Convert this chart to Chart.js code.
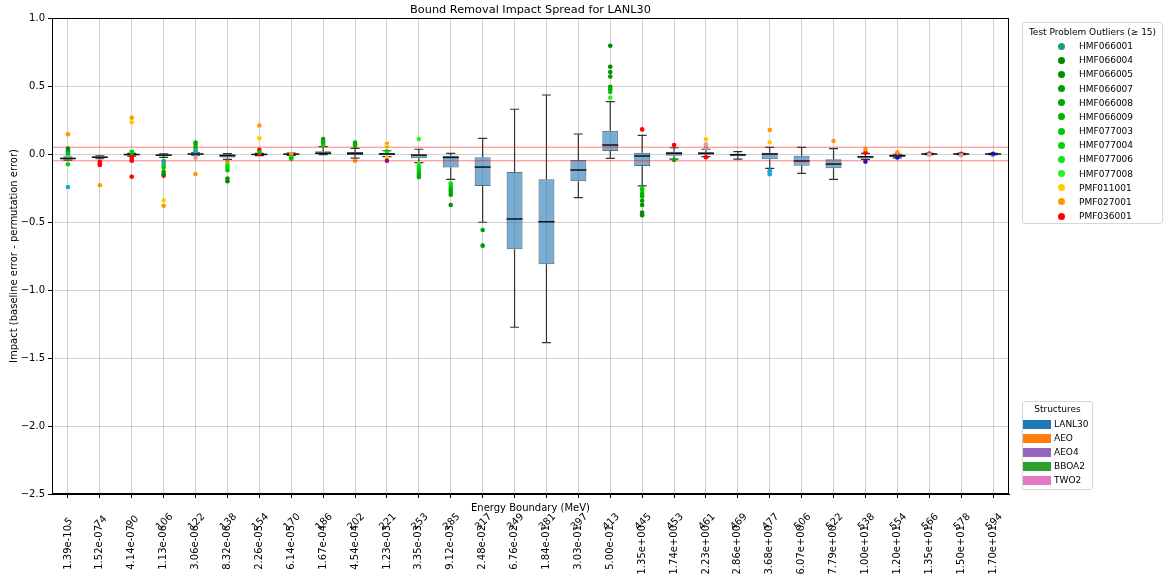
<!DOCTYPE html>
<html>
<head>
<meta charset="utf-8">
<script src="https://cdn.jsdelivr.net/npm/chart.js@4.4.0/dist/chart.umd.min.js"></script>
<style>
  body { margin: 0; background: #fff; font-family: "DejaVu Sans", sans-serif; }
  #wrap { position: relative; width: 1164px; height: 578px; }
  .legend { position: absolute; background: #fff; border: 1px solid #d6d6d6; border-radius: 3px; box-sizing: border-box; font-size: 9px; color: #000; }
  .legend .ttl { position: absolute; left: 0; right: 0; text-align: center; }
  .legend .row { position: absolute; height: 12px; line-height: 12px; white-space: nowrap; }
  .dot { position: absolute; width: 7px; height: 7px; border-radius: 50%; top: 2.5px; }
  .patch { position: absolute; width: 28px; height: 9px; top: 1.5px; }
</style>
</head>
<body>
<div id="wrap">
  <canvas id="chart" width="1164" height="578"></canvas>
  <div class="legend" id="legOut" style="left:1022px; top:22px; width:141px; height:202px;"></div>
  <div class="legend" id="legStruct" style="left:1022px; top:401px; width:71px; height:89px;"></div>
</div>
<script>
// energy group index and upper boundary (MeV)
const groups = ['5', '74', '90', '106', '122', '138', '154', '170', '186', '202', '221', '253', '285', '317', '349',
  '381', '397', '413', '445', '453', '461', '469', '477', '506', '522', '538', '554', '566', '578', '594'];
const energies = ['1.39e-10', '1.52e-07', '4.14e-07', '1.13e-06', '3.06e-06', '8.32e-06', '2.26e-05', '6.14e-05',
  '1.67e-04', '4.54e-04', '1.23e-03', '3.35e-03', '9.12e-03', '2.48e-02', '6.76e-02', '1.84e-01', '3.03e-01',
  '5.00e-01', '1.35e+00', '1.74e+00', '2.23e+00', '2.86e+00', '3.68e+00', '6.07e+00', '7.79e+00', '1.00e+01',
  '1.20e+01', '1.35e+01', '1.50e+01', '1.70e+01'];

// box statistics per group
const whiskerLo = [-0.045, -0.035, -0.015, -0.025, -0.008, -0.04, -0.012, -0.01, -0.005, -0.03, -0.02, -0.064, -0.186, -0.502, -1.274,
  -1.387, -0.321, -0.032, -0.235, -0.037, -0.02, -0.037, -0.105, -0.142, -0.186, -0.04, -0.028, -0.004, -0.004, -0.004];
const q1 = [-0.038, -0.028, -0.008, -0.014, -0.003, -0.025, -0.006, -0.004, 0.0, -0.008, -0.01, -0.032, -0.1, -0.235, -0.701,
  -0.811, -0.201, 0.022, -0.088, -0.012, -0.005, -0.017, -0.039, -0.086, -0.105, -0.034, -0.022, -0.002, -0.002, -0.002];
const medians = [-0.033, -0.024, -0.004, -0.008, 0.0, -0.012, -0.003, -0.001, 0.005, 0.004, 0.0, -0.008, -0.025, -0.096, -0.478,
  -0.498, -0.118, 0.066, -0.015, 0.005, 0.005, -0.005, 0.0, -0.051, -0.074, -0.02, -0.012, 0.0, 0.0, 0.0];
const q3 = [-0.028, -0.019, -0.001, -0.003, 0.003, -0.002, 0.0, 0.002, 0.02, 0.014, 0.008, 0.0, -0.012, -0.024, -0.132,
  -0.186, -0.044, 0.171, 0.01, 0.017, 0.012, 0.0, 0.01, -0.012, -0.039, -0.015, -0.007, 0.002, 0.002, 0.002];
const whiskerHi = [-0.022, -0.013, 0.004, 0.002, 0.008, 0.003, 0.005, 0.006, 0.054, 0.042, 0.024, 0.035, 0.005, 0.115, 0.329,
  0.434, 0.147, 0.385, 0.137, 0.046, 0.035, 0.017, 0.049, 0.049, 0.039, 0.005, -0.002, 0.004, 0.004, 0.004];

// outliers: [group, impact]
const HMF066001 = [['5', 0.005]];
const HMF066004 = [['5', 0.04], ['413', 0.796], ['413', 0.642], ['445', -0.43], ['445', -0.45], ['138', -0.2]];
const HMF066005 = [['413', 0.603], ['285', -0.375], ['317', -0.674], ['445', -0.375], ['138', -0.18], ['106', -0.15]];
const HMF066007 = [['413', 0.569], ['5', 0.03], ['285', -0.3], ['317', -0.559], ['445', -0.343], ['106', -0.13], ['186', 0.11]];
const HMF066008 = [['413', 0.495], ['285', -0.28], ['445', -0.31], ['122', 0.085], ['202', 0.085], ['253', -0.17]];
const HMF066009 = [['413', 0.476], ['285', -0.265], ['445', -0.29], ['122', 0.07], ['186', 0.09], ['202', 0.07], ['253', -0.15], ['453', -0.044]];
const HMF077003 = [['413', 0.456], ['285', -0.25], ['445', -0.265], ['5', 0.015], ['90', 0.017], ['106', -0.1], ['138', -0.12],
  ['154', 0.015], ['170', -0.035], ['186', 0.075], ['202', 0.06], ['253', -0.13], ['122', 0.05]];
const HMF077004 = [['5', -0.075], ['285', -0.235], ['445', -0.253], ['106', -0.08], ['138', -0.1], ['170', -0.025], ['253', -0.11], ['221', 0.02], ['122', 0.03]];
const HMF077006 = [['285', -0.215], ['106', -0.05], ['138', -0.08], ['253', -0.09], ['186', 0.065], ['90', 0.01], ['5', 0.02]];
const HMF077008 = [['413', 0.414], ['253', 0.11], ['253', -0.07], ['5', -0.01]];
const PMF011001 = [['90', 0.233], ['106', -0.34], ['154', 0.115], ['221', 0.06], ['221', -0.027], ['461', 0.108], ['477', 0.086]];
const PMF027001 = [['5', 0.145], ['74', -0.23], ['90', 0.267], ['106', -0.38], ['122', -0.147], ['138', -0.057], ['154', 0.21],
  ['170', 0.0], ['202', -0.05], ['221', 0.075], ['477', 0.176], ['522', 0.096], ['538', 0.035], ['554', 0.012]];
const PMF036001 = [['74', -0.057], ['74', -0.07], ['74', -0.08], ['90', -0.02], ['90', -0.035], ['90', -0.05], ['90', -0.167],
  ['106', -0.16], ['154', 0.03], ['154', 0.0], ['170', -0.005], ['445', 0.181], ['453', 0.066], ['461', -0.024],
  ['538', 0.01], ['554', 0.0], ['566', 0.003], ['578', 0.002]];
// smaller test problems (below legend threshold)
const otherCyan = [['5', -0.243], ['106', -0.06], ['122', 0.02], ['477', -0.122], ['477', -0.135], ['477', -0.149]];
const otherPurple = [['221', -0.05]];
const otherBlue = [['538', -0.056], ['554', -0.025], ['594', 0.002]];
const otherPink = [['122', -0.027], ['461', 0.071], ['461', 0.046], ['566', -0.006], ['578', -0.01], ['594', -0.01]];

const outlierNames = ['HMF066001', 'HMF066004', 'HMF066005', 'HMF066007', 'HMF066008', 'HMF066009', 'HMF077003',
  'HMF077004', 'HMF077006', 'HMF077008', 'PMF011001', 'PMF027001', 'PMF036001'];
const outlierSets = [HMF066001, HMF066004, HMF066005, HMF066007, HMF066008, HMF066009, HMF077003,
  HMF077004, HMF077006, HMF077008, PMF011001, PMF027001, PMF036001];
const outlierColors = ['#1a9e78', '#008a00', '#009200', '#00a000', '#00aa00', '#00b400', '#00c800',
  '#00d600', '#10e418', '#2cf02c', '#ffcc00', '#ff9900', '#ff0000'];
const otherSets = [otherCyan, otherPurple, otherBlue, otherPink];
const otherColors = ['#1aa6d8', '#6a0dad', '#1010c8', '#d8a0a0'];

const structNames = ['LANL30', 'AEO', 'AEO4', 'BBOA2', 'TWO2'];
const structColors = ['#1f77b4', '#ff7f0e', '#9467bd', '#2ca02c', '#e377c2'];

const FONT = '"DejaVu Sans", sans-serif';
const toPts = arr => arr.map(p => ({ x: p[0], y: p[1] }));

const scatterSets = otherSets.map((s, i) => ({ type: 'scatter', data: toPts(s), backgroundColor: otherColors[i], pointRadius: 2.3, borderWidth: 0, order: 1 }))
  .concat(outlierSets.map((s, i) => ({ type: 'scatter', label: outlierNames[i], data: toPts(s), backgroundColor: outlierColors[i], pointRadius: 2.3, borderWidth: 0, order: 1 })));

const boxDecor = {
  id: 'boxDecor',
  afterDatasetDraw(chart, args) {
    if (args.index !== 0) return;
    const { ctx } = chart;
    const x = chart.scales.x, y = chart.scales.y;
    ctx.save();
    groups.forEach((g, i) => {
      const px = x.getPixelForValue(i);
      ctx.strokeStyle = '#333';
      ctx.lineWidth = 1.2;
      ctx.beginPath();
      ctx.moveTo(px, y.getPixelForValue(q3[i])); ctx.lineTo(px, y.getPixelForValue(whiskerHi[i]));
      ctx.moveTo(px, y.getPixelForValue(q1[i])); ctx.lineTo(px, y.getPixelForValue(whiskerLo[i]));
      ctx.moveTo(px - 4.5, y.getPixelForValue(whiskerHi[i])); ctx.lineTo(px + 4.5, y.getPixelForValue(whiskerHi[i]));
      ctx.moveTo(px - 4.5, y.getPixelForValue(whiskerLo[i])); ctx.lineTo(px + 4.5, y.getPixelForValue(whiskerLo[i]));
      ctx.stroke();
      ctx.strokeStyle = '#111';
      ctx.lineWidth = 1.5;
      ctx.beginPath();
      ctx.moveTo(px - 8, y.getPixelForValue(medians[i])); ctx.lineTo(px + 8, y.getPixelForValue(medians[i]));
      ctx.stroke();
    });
    ctx.restore();
  }
};

const annotations = {
  id: 'annotations',
  afterDraw(chart) {
    const { ctx, chartArea: a } = chart;
    const x = chart.scales.x, y = chart.scales.y;
    ctx.save();
    // tolerance band
    ctx.strokeStyle = 'rgba(255,0,0,0.5)';
    ctx.lineWidth = 1;
    [0.05, -0.05].forEach(v => {
      const py = y.getPixelForValue(v);
      ctx.beginPath(); ctx.moveTo(a.left, py); ctx.lineTo(a.right, py); ctx.stroke();
    });
    // frame
    ctx.strokeStyle = '#000';
    ctx.strokeRect(a.left + 0.5, a.top + 0.5, a.right - a.left - 1, a.bottom - a.top - 1);
    ctx.fillStyle = '#000';
    ctx.textAlign = 'center';
    ctx.textBaseline = 'middle';
    ctx.font = '11.3px ' + FONT;
    ctx.fillText('Bound Removal Impact Spread for LANL30', (a.left + a.right) / 2, 10);
    ctx.font = '10px ' + FONT;
    ctx.fillText('Energy Boundary (MeV)', (a.left + a.right) / 2, 508);
    // y title
    ctx.save();
    ctx.translate(14, (a.top + a.bottom) / 2);
    ctx.rotate(-Math.PI / 2);
    ctx.fillText('Impact (baseline error - permutation error)', 0, 0);
    ctx.restore();
    // tick labels: energy (vertical) and group index (diagonal)
    groups.forEach((g, i) => {
      const px = x.getPixelForValue(i);
      ctx.save();
      ctx.translate(px, 525);
      ctx.rotate(-Math.PI / 2);
      ctx.textAlign = 'right';
      ctx.fillText(energies[i], 0, 0);
      ctx.restore();
      ctx.save();
      ctx.translate(px + 1, 522);
      ctx.rotate(-Math.PI / 4);
      ctx.textAlign = 'center';
      ctx.fillText(g, 0, 0);
      ctx.restore();
    });
    ctx.restore();
  }
};

new Chart(document.getElementById('chart'), {
  type: 'bar',
  data: {
    labels: groups,
    datasets: [{
      label: 'LANL30',
      data: groups.map((g, i) => [q1[i], q3[i]]),
      backgroundColor: 'rgba(31,119,180,0.6)',
      borderColor: 'rgba(40,60,85,0.75)',
      borderWidth: 1,
      borderSkipped: false,
      barPercentage: 0.5,
      categoryPercentage: 1,
      order: 2
    }].concat(scatterSets)
  },
  options: {
    responsive: false,
    animation: false,
    layout: { padding: { top: 18, right: 155, left: 0, bottom: 0 } },
    plugins: { legend: { display: false }, tooltip: { enabled: false } },
    scales: {
      x: {
        type: 'category',
        offset: true,
        afterFit(scale) { scale.height = 84; },
        grid: { offset: false, color: 'rgba(176,176,176,0.6)', tickColor: '#000', tickLength: 4 },
        border: { color: '#000' },
        ticks: { display: false }
      },
      y: {
        min: -2.5,
        max: 1.0,
        afterFit(scale) { scale.width = 52; },
        grid: { color: 'rgba(176,176,176,0.6)', tickColor: '#000', tickLength: 4 },
        border: { color: '#000' },
        ticks: {
          stepSize: 0.5,
          padding: 3,
          color: '#000',
          font: { family: FONT, size: 10 },
          callback: v => v.toFixed(1).replace('-', '\u2212')
        }
      }
    }
  },
  plugins: [boxDecor, annotations]
});

// legends
const legOut = document.getElementById('legOut');
legOut.innerHTML = '<div class="ttl" style="top:4px">Test Problem Outliers (\u2265 15)</div>' +
  outlierNames.map((n, i) => '<div class="row" style="left:0; top:' + (17 + i * 14.17).toFixed(1) + 'px; width:100%">' +
    '<span class="dot" style="left:35px; background:' + outlierColors[i] + '"></span>' +
    '<span style="position:absolute; left:56px">' + n + '</span></div>').join('');
const legStruct = document.getElementById('legStruct');
legStruct.innerHTML = '<div class="ttl" style="top:2px">Structures</div>' +
  structNames.map((n, i) => '<div class="row" style="left:0; top:' + (16 + i * 14) + 'px; width:100%">' +
    '<span class="patch" style="left:0; background:' + structColors[i] + '"></span>' +
    '<span style="position:absolute; left:31px">' + n + '</span></div>').join('');
</script>
</body>
</html>
